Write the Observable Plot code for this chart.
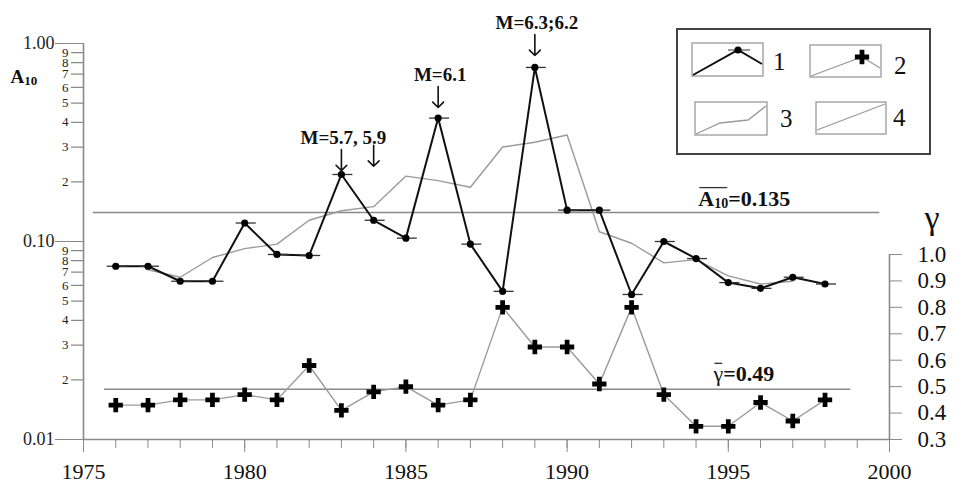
<!DOCTYPE html>
<html>
<head>
<meta charset="utf-8">
<script src="https://cdn.jsdelivr.net/npm/d3@7"></script>
<script src="https://cdn.jsdelivr.net/npm/@observablehq/plot@0.6"></script>
<style>
  body { margin: 0; background: #fff; }
  #wrap { position: relative; width: 954px; height: 484px; background: #fff; }
  #wrap svg { position: absolute; left: 0; top: 0; overflow: visible; }
</style>
</head>
<body>
<div id="wrap"></div>
<script>
// ---------------- data ----------------
const years = [1976,1977,1978,1979,1980,1981,1982,1983,1984,1985,1986,1987,1988,1989,1990,1991,1992,1993,1994,1995,1996,1997,1998];
const a10Values = [0.075,0.075,0.063,0.063,0.124,0.086,0.085,0.218,0.128,0.104,0.420,0.097,0.056,0.757,0.144,0.144,0.054,0.100,0.082,0.062,0.058,0.066,0.061];
const gammaValues = [0.43,0.43,0.45,0.45,0.47,0.45,0.58,0.41,0.48,0.50,0.43,0.45,0.80,0.65,0.65,0.51,0.80,0.47,0.35,0.35,0.44,0.37,0.45];
const maYears = [1977,1978,1979,1980,1981,1982,1983,1984,1985,1986,1987,1988,1989,1990,1991,1992,1993,1994,1995,1996,1997];
const maValues = [0.072,0.066,0.083,0.092,0.097,0.128,0.143,0.150,0.214,0.203,0.188,0.300,0.317,0.345,0.112,0.098,0.078,0.081,0.067,0.061,0.063];

const meanA10Line = [{v: 0.14, from: 1975.3, to: 1999.7}];
const meanGammaLine = [{v: 0.49, from: 1975.65, to: 1998.8}];
const meanA10Label = [{year: 1994.07, v: 0.14, label: "A10=0.135"}];
const meanGammaLabel = [{year: 1994.54, v: 0.49, label: "γ=0.49"}];

const quakeArrows = [
  {year: 1983, tip: 0.228},
  {year: 1984, tip: 0.240},
  {year: 1986, tip: 0.475},
  {year: 1989, tip: 0.870}
];
const quakeLabels = [
  {year: 1983, tip: 0.228, label: "M=5.7, 5.9"},
  {year: 1986, tip: 0.475, label: "M=6.1"},
  {year: 1989, tip: 0.870, label: "M=6.3;6.2"}
];

const yMajorTicks = [0.01, 0.1, 1];
const yMinorTicks = [0.02,0.03,0.04,0.05,0.06,0.07,0.08,0.09,0.2,0.3,0.4,0.5,0.6,0.7,0.8,0.9];
const yMinorLabels = ["2","3","4","5","6","7","8","9","2","3","4","5","6","7","8","9"];
const xYearTicks = d3.range(1975, 2001);
const xLabelTicks = [1975, 1980, 1985, 1990, 1995, 2000];
const gammaTicks = [0.3,0.4,0.5,0.6,0.7,0.8,0.9,1.0];

// ---------------- build ----------------
const W = 954, H = 484;
const fontFamily = '"Liberation Serif", Tinos, "Times New Roman", Times, "Nimbus Roman", "Noto Serif", "DejaVu Serif", serif';
const axisGray = "#8a8a8a";

const rows = years.map((year, i) => ({year, a10: a10Values[i], gamma: gammaValues[i]}));
const maRows = maYears.map((year, i) => ({year, v: maValues[i]}));
const minorRows = yMinorTicks.map((v, i) => ({v, label: yMinorLabels[i]}));

const tickLeft = {draw(context, l) { context.moveTo(0, 0); context.lineTo(0, -l); }};

const plotA = Plot.plot({
  width: W, height: H,
  marginLeft: 83, marginRight: 65, marginTop: 43, marginBottom: 45,
  style: {fontFamily, background: "transparent", color: "#111"},
  x: {type: "linear", domain: [1975, 2000]},
  y: {type: "log", domain: [0.01, 1]},
  marks: [
    Plot.ruleX([1975], {y1: 0.01, y2: 1, stroke: axisGray, strokeWidth: 1.6}),
    Plot.ruleY([0.01], {x1: 1975, x2: 2000, stroke: axisGray, strokeWidth: 1.6}),
    Plot.vector(minorRows, {y: "v", frameAnchor: "left", rotate: -90, length: 12, anchor: "start", shape: tickLeft, stroke: axisGray, strokeWidth: 1.3}),
    Plot.text(minorRows, {y: "v", text: "label", frameAnchor: "left", dx: -15, textAnchor: "end", fontSize: 13, fill: "#222"}),
    Plot.axisY({ticks: yMajorTicks, tickSize: 28, tickPadding: 1, tickFormat: d3.format(".2f"), fontSize: 18, stroke: axisGray, fill: "#222", label: null}),
    Plot.axisX({ticks: xYearTicks, tickSize: 9, tickFormat: () => "", stroke: axisGray, label: null}),
    Plot.axisX({ticks: xLabelTicks, tickSize: 13, tickPadding: 11, tickFormat: d => String(d), fontSize: 22, stroke: axisGray, fill: "#111", label: null}),
    Plot.ruleY(meanA10Line, {y: "v", x1: "from", x2: "to", stroke: axisGray, strokeWidth: 1.6}),
    Plot.line(maRows, {x: "year", y: "v", stroke: "#9a9a9a", strokeWidth: 1.4}),
    Plot.line(rows, {x: "year", y: "a10", stroke: "#111", strokeWidth: 2}),
    Plot.link(rows, {x1: d => d.year - 0.28, x2: d => d.year + 0.34, y1: "a10", y2: "a10", stroke: "#333", strokeWidth: 1.3}),
    Plot.dot(rows, {x: "year", y: "a10", r: 3.6, fill: "#000"}),
    Plot.vector(quakeArrows, {x: "year", y: "tip", length: 21, rotate: 180, anchor: "end", r: 4.5, stroke: "#111", strokeWidth: 1.6}),
    Plot.text(quakeLabels, {x: "year", y: "tip", text: "label", dy: -33, dx: 2, fontSize: 19, fontWeight: "bold", fill: "#111"}),
    Plot.text(["A10"], {text: d => d, frameAnchor: "top-left", dx: -73, dy: 26, textAnchor: "start", fontSize: 19, fontWeight: "bold", fill: "#111"}),
    Plot.text(meanA10Label, {x: "year", y: "v", text: "label", textAnchor: "start", dy: -14, fontSize: 22, fontWeight: "bold", fill: "#111"})
  ]
});

const plotG = Plot.plot({
  width: W, height: H,
  marginLeft: 83, marginRight: 65, marginTop: 254, marginBottom: 45,
  style: {fontFamily, background: "transparent", color: "#111"},
  x: {type: "linear", domain: [1975, 2000], axis: null},
  y: {type: "linear", domain: [0.3, 1.0]},
  marks: [
    Plot.ruleX([2000], {y1: 0.3, y2: 1.0, stroke: axisGray, strokeWidth: 1.6}),
    Plot.axisY({anchor: "right", ticks: gammaTicks, tickSize: 12, tickPadding: 16, tickFormat: d3.format(".1f"), fontSize: 23, stroke: axisGray, fill: "#111", label: null}),
    Plot.ruleY(meanGammaLine, {y: "v", x1: "from", x2: "to", stroke: axisGray, strokeWidth: 1.6}),
    Plot.line(rows, {x: "year", y: "gamma", stroke: "#9a9a9a", strokeWidth: 1.4}),
    Plot.dot(rows, {x: "year", y: "gamma", symbol: "cross", r: 6, fill: "#000"}),
    Plot.text(["γ"], {text: d => d, frameAnchor: "top-right", dx: 50, dy: -50, fontSize: 34, fill: "#111"}),
    Plot.text(meanGammaLabel, {x: "year", y: "v", text: "label", textAnchor: "start", dy: -15, fontSize: 22, fontWeight: "bold", fill: "#111"})
  ]
});

const wrap = document.getElementById("wrap");
wrap.appendChild(plotA);
wrap.appendChild(plotG);

// ---- rich text: subscripts and overlines ----
function findTexts(svg, content) {
  return Array.from(svg.querySelectorAll("text")).filter(t => t.textContent === content);
}
function rebuild(svg, content, parts) {
  const found = findTexts(svg, content);
  found.forEach(t => {
    const sel = d3.select(t);
    sel.text("");
    parts.forEach(p => {
      const ts = sel.append("tspan").text(p.text);
      if (p.size) ts.attr("font-size", p.size);
      if (p.dy) ts.attr("dy", p.dy);
      if (p.weight) ts.attr("font-weight", p.weight);
    });
  });
  return found;
}
function overline(texts, nChars) {
  texts.forEach(t => {
    let x0 = Infinity, x1 = -Infinity, y0 = Infinity;
    for (let i = 0; i < nChars; i++) {
      const e = t.getExtentOfChar(i);
      x0 = Math.min(x0, e.x); x1 = Math.max(x1, e.x + e.width); y0 = Math.min(y0, e.y);
    }
    const ln = document.createElementNS("http://www.w3.org/2000/svg", "line");
    ln.setAttribute("x1", x0 + 1); ln.setAttribute("x2", x1 - 1);
    ln.setAttribute("y1", y0 + 2); ln.setAttribute("y2", y0 + 2);
    ln.setAttribute("stroke", "#333"); ln.setAttribute("stroke-width", 1.3);
    if (t.getAttribute("transform")) ln.setAttribute("transform", t.getAttribute("transform"));
    t.parentNode.appendChild(ln);
  });
}
rebuild(plotA, "A10", [{text: "A"}, {text: "10", size: 13, dy: 2}]);
const ma = rebuild(plotA, "A10=0.135", [{text: "A"}, {text: "10", size: 14, dy: 2}, {text: "=0.135", dy: -2}]);
const mg = rebuild(plotG, "γ=0.49", [{text: "γ", weight: "normal"}, {text: "=0.49"}]);
overline(ma, 3);
overline(mg, 1);

// ---------------- legend ----------------
const lg = d3.select(wrap).append("svg")
  .attr("width", W).attr("height", H)
  .style("font-family", fontFamily);
lg.append("rect").attr("x", 677).attr("y", 29).attr("width", 253).attr("height", 125)
  .attr("fill", "white").attr("stroke", "#444").attr("stroke-width", 2);
const legendItems = [
  {box: [692, 43, 71, 33], pts: [[693, 75], [738, 50], [762, 64]], stroke: "#111", sw: 2, marker: "dot", m: [738, 50], label: "1", lx: 773, ly: 70},
  {box: [810, 45, 71, 32], pts: [[811, 76], [862, 57], [880, 68]], stroke: "#9a9a9a", sw: 1.3, marker: "cross", m: [862, 57], label: "2", lx: 894, ly: 74},
  {box: [695, 102, 72, 33], pts: [[696, 134], [720, 123], [748, 120], [766, 106]], stroke: "#9a9a9a", sw: 1.3, label: "3", lx: 780, ly: 127},
  {box: [816, 102, 70, 32], pts: [[817, 130], [885, 104]], stroke: "#9a9a9a", sw: 1.3, label: "4", lx: 893, ly: 126}
];
legendItems.forEach(it => {
  lg.append("rect").attr("x", it.box[0]).attr("y", it.box[1]).attr("width", it.box[2]).attr("height", it.box[3])
    .attr("fill", "none").attr("stroke", "#9a9a9a").attr("stroke-width", 1.3);
  lg.append("path").attr("d", d3.line()(it.pts)).attr("fill", "none").attr("stroke", it.stroke).attr("stroke-width", it.sw);
  if (it.marker === "dot") {
    lg.append("line").attr("x1", it.m[0] - 10).attr("x2", it.m[0] + 12).attr("y1", it.m[1]).attr("y2", it.m[1]).attr("stroke", "#555").attr("stroke-width", 1.2);
    lg.append("circle").attr("cx", it.m[0]).attr("cy", it.m[1]).attr("r", 3.6).attr("fill", "#000");
  } else if (it.marker === "cross") {
    lg.append("path").attr("d", d3.symbol(d3.symbolCross, 113)()).attr("transform", `translate(${it.m[0]},${it.m[1]})`).attr("fill", "#000");
  }
  lg.append("text").attr("x", it.lx).attr("y", it.ly).attr("font-size", 25).attr("fill", "#111").text(it.label);
});
</script>
</body>
</html>
